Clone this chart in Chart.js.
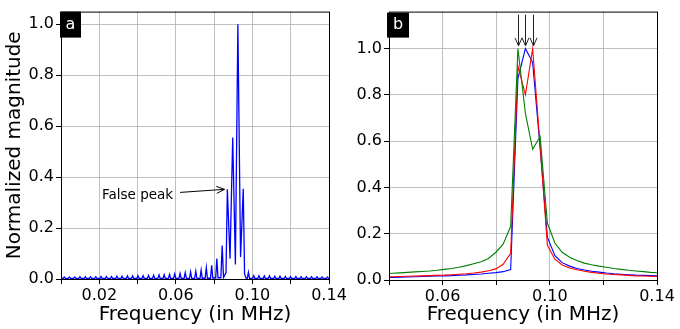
<!DOCTYPE html>
<html>
<head>
<meta charset="utf-8">
<script src="https://cdn.jsdelivr.net/npm/chart.js"></script>
<style>
html, body { margin: 0; padding: 0; background: #fff; }
#marco { position: relative; width: 680px; height: 329px; overflow: hidden; }
canvas { position: absolute; top: 0; }
#lienzoA { left: 0; }
#lienzoB { left: 340px; }
</style>
</head>
<body>
<div id="marco">
<canvas id="lienzoA" width="360" height="329" style="width:360px;height:329px"></canvas>
<canvas id="lienzoB" width="340" height="329" style="width:340px;height:329px"></canvas>
</div>
<script>
'use strict';

// panel a: espectro completo (base, pico, base de cada lobulo)
const freqA = [
    0.0000,
    0.0011, 0.0017, 0.0023,   0.0038, 0.0044, 0.0050,   0.0066, 0.0072, 0.0078,
    0.0093, 0.0099, 0.0105,   0.0121, 0.0127, 0.0133,   0.0148, 0.0154, 0.0160,
    0.0176, 0.0182, 0.0188,   0.0203, 0.0209, 0.0215,   0.0231, 0.0237, 0.0243,
    0.0258, 0.0264, 0.0270,   0.0286, 0.0292, 0.0298,   0.0313, 0.0319, 0.0325,
    0.0341, 0.0347, 0.0353,   0.0368, 0.0374, 0.0380,   0.0396, 0.0402, 0.0408,
    0.0423, 0.0429, 0.0435,   0.0451, 0.0457, 0.0463,   0.0478, 0.0484, 0.0490,
    0.0506, 0.0512, 0.0518,   0.0533, 0.0539, 0.0545,   0.0561, 0.0567, 0.0573,
    0.0588, 0.0594, 0.0600,   0.0616, 0.0622, 0.0628,   0.0643, 0.0649, 0.0655,
    0.0671, 0.0677, 0.0683,   0.0698, 0.0704, 0.0710,   0.0726, 0.0732, 0.0738,
    0.0753, 0.0759, 0.0765,   0.0781, 0.0787, 0.0793,   0.0808, 0.0814, 0.0820,
    0.0835, 0.0842, 0.0849,
    0.0862, 0.0869, 0.0883, 0.0897, 0.0911, 0.0924, 0.0938, 0.0952, 0.0959, 0.0966,
    0.0973, 0.0979, 0.0985,   0.1001, 0.1007, 0.1013,   0.1028, 0.1034, 0.1040,
    0.1056, 0.1062, 0.1068,   0.1083, 0.1089, 0.1095,   0.1111, 0.1117, 0.1123,
    0.1138, 0.1144, 0.1150,   0.1166, 0.1172, 0.1178,   0.1193, 0.1199, 0.1205,
    0.1221, 0.1227, 0.1233,   0.1248, 0.1254, 0.1260,   0.1276, 0.1282, 0.1288,
    0.1303, 0.1309, 0.1315,   0.1331, 0.1337, 0.1343,   0.1358, 0.1364, 0.1370,
    0.1386, 0.1392, 0.1398,
    0.1400
];
const magA = [
    0.002,
    0.002, 0.008, 0.002,   0.002, 0.008, 0.002,   0.002, 0.008, 0.002,
    0.002, 0.009, 0.002,   0.002, 0.009, 0.002,   0.002, 0.009, 0.002,
    0.002, 0.009, 0.002,   0.002, 0.010, 0.002,   0.002, 0.010, 0.002,
    0.002, 0.010, 0.002,   0.002, 0.011, 0.002,   0.002, 0.011, 0.002,
    0.002, 0.012, 0.002,   0.002, 0.012, 0.002,   0.002, 0.013, 0.002,
    0.002, 0.013, 0.002,   0.002, 0.014, 0.002,   0.002, 0.015, 0.002,
    0.002, 0.016, 0.002,   0.002, 0.017, 0.002,   0.002, 0.018, 0.002,
    0.002, 0.020, 0.002,   0.002, 0.022, 0.002,   0.002, 0.025, 0.002,
    0.002, 0.028, 0.002,   0.002, 0.031, 0.002,   0.002, 0.035, 0.003,
    0.003, 0.045, 0.003,   0.003, 0.054, 0.004,   0.004, 0.080, 0.005,
    0.005, 0.131, 0.006,
    0.025, 0.352, 0.080, 0.556, 0.057, 1.000, 0.086, 0.354, 0.020, 0.004,
    0.002, 0.026, 0.002,   0.002, 0.013, 0.002,   0.002, 0.013, 0.002,
    0.002, 0.012, 0.002,   0.002, 0.012, 0.002,   0.002, 0.011, 0.002,
    0.002, 0.011, 0.002,   0.002, 0.010, 0.002,   0.002, 0.010, 0.002,
    0.002, 0.010, 0.002,   0.002, 0.009, 0.002,   0.002, 0.009, 0.002,
    0.002, 0.009, 0.002,   0.002, 0.009, 0.002,   0.002, 0.008, 0.002,
    0.002, 0.008, 0.002,
    0.002
];

// panel b: tres espectros muestreados alrededor del pico
const freqB = [
    0.0386, 0.0414, 0.0441, 0.0469, 0.0496, 0.0524, 0.0551, 0.0579, 0.0606, 0.0634,
    0.0661, 0.0689, 0.0716, 0.0744, 0.0771, 0.0799, 0.0826, 0.0854, 0.0881, 0.0909,
    0.0936, 0.0964, 0.0991, 0.1019, 0.1046, 0.1074, 0.1101, 0.1129, 0.1156, 0.1184,
    0.1211, 0.1239, 0.1266, 0.1294, 0.1321, 0.1349, 0.1376, 0.1404
];
const azul = [
    0.010, 0.011, 0.012, 0.013, 0.014, 0.015, 0.016, 0.017, 0.018, 0.019,
    0.021, 0.022, 0.024, 0.026, 0.029, 0.032, 0.036, 0.045, 0.870, 1.000,
    0.940, 0.570, 0.185, 0.105, 0.075, 0.060, 0.050, 0.043, 0.038, 0.034,
    0.030, 0.027, 0.025, 0.023, 0.021, 0.020, 0.019, 0.018
];
const rojo = [
    0.013, 0.014, 0.015, 0.016, 0.017, 0.018, 0.019, 0.020, 0.021, 0.023,
    0.025, 0.027, 0.030, 0.034, 0.040, 0.048, 0.068, 0.115, 0.925, 0.800,
    1.000, 0.580, 0.150, 0.090, 0.065, 0.052, 0.044, 0.038, 0.033, 0.029,
    0.026, 0.024, 0.022, 0.020, 0.018, 0.017, 0.016, 0.015
];
const verde = [
    0.027, 0.029, 0.031, 0.033, 0.035, 0.037, 0.039, 0.042, 0.046, 0.050,
    0.055, 0.062, 0.070, 0.079, 0.093, 0.120, 0.155, 0.232, 1.000, 0.720,
    0.565, 0.620, 0.245, 0.160, 0.120, 0.098, 0.084, 0.073, 0.066, 0.060,
    0.055, 0.050, 0.046, 0.042, 0.039, 0.036, 0.033, 0.031
];

// flechas del panel b (frecuencia de cada maximo)
const picosB = [0.0881, 0.0909, 0.0936];

Chart.defaults.font.family = "'DejaVu Sans', sans-serif";
Chart.defaults.color = '#000';

const puntos = (xs, ys) => xs.map((x, i) => ({ x: x, y: ys[i] }));

function flecha(ctx, x1, y1, x2, y2, largo, ancho) {
    const ang = Math.atan2(y2 - y1, x2 - x1);
    const c = Math.cos(ang), s = Math.sin(ang);
    ctx.beginPath();
    ctx.moveTo(x1, y1);
    ctx.lineTo(x2, y2);
    ctx.moveTo(x2 - largo * c + ancho * s, y2 - largo * s - ancho * c);
    ctx.lineTo(x2, y2);
    ctx.lineTo(x2 - largo * c - ancho * s, y2 - largo * s + ancho * c);
    ctx.stroke();
}

function etiqueta(ctx, txt, x, y, w, h) {
    ctx.fillStyle = '#000';
    ctx.fillRect(x, y, w, h);
    ctx.fillStyle = '#fff';
    ctx.font = "16px 'DejaVu Sans'";
    ctx.textAlign = 'center';
    ctx.textBaseline = 'middle';
    ctx.fillText(txt, x + w / 2, y + h / 2);
}

function caja(ctx, a) {
    ctx.strokeStyle = '#000';
    ctx.lineWidth = 1;
    ctx.strokeRect(a.left + 0.5, a.top + 0.5, a.right - a.left, a.bottom - a.top);
}

function ejeX(min, max, alto) {
    return {
        type: 'linear', min: min, max: max,
        border: { display: false },
        grid: { color: '#b0b0b0', lineWidth: 0.8, tickColor: '#000', tickLength: 5, tickWidth: 1 },
        ticks: {
            stepSize: 0.02, autoSkip: false, maxRotation: 0, minRotation: 0, padding: 2,
            font: { size: 16 },
            callback: v => (Math.round(v / 0.02) % 2 === 1 ? v.toFixed(2) : '')
        },
        title: { display: true, text: 'Frequency (in MHz)', font: { size: 20 }, padding: { top: 0, bottom: 2 } },
        afterFit: s => { s.height = alto; }
    };
}

function ejeY(max, ancho, titulo) {
    return {
        min: 0, max: max,
        border: { display: false },
        grid: { color: '#b0b0b0', lineWidth: 0.8, tickColor: '#000', tickLength: 5, tickWidth: 1 },
        ticks: { stepSize: 0.2, includeBounds: false, padding: 2, font: { size: 16 }, callback: v => v.toFixed(1) },
        title: { display: !!titulo, text: titulo || '', font: { size: 20 }, padding: { top: 3, bottom: 0 } },
        afterFit: s => { s.width = ancho; }
    };
}

const extrasA = {
    id: 'extrasA',
    afterDatasetsDraw(chart) {
        const ctx = chart.ctx, x = chart.scales.x, y = chart.scales.y;
        ctx.save();
        caja(ctx, chart.chartArea);
        ctx.strokeStyle = '#000';
        ctx.lineWidth = 1;
        flecha(ctx, x.getPixelForValue(0.0622), y.getPixelForValue(0.340),
            x.getPixelForValue(0.0854), y.getPixelForValue(0.352), 8, 3.5);
        ctx.fillStyle = '#000';
        ctx.font = "13.5px 'DejaVu Sans'";
        ctx.textAlign = 'left';
        ctx.textBaseline = 'middle';
        ctx.fillText('False peak', x.getPixelForValue(0.0214), y.getPixelForValue(0.328));
        etiqueta(ctx, 'a', chart.chartArea.left - 1, chart.chartArea.top, 21, 26);
        ctx.restore();
    }
};

const extrasB = {
    id: 'extrasB',
    afterDatasetsDraw(chart) {
        const ctx = chart.ctx, x = chart.scales.x, y = chart.scales.y;
        ctx.save();
        caja(ctx, chart.chartArea);
        ctx.strokeStyle = '#222';
        ctx.lineWidth = 1;
        picosB.forEach(f => {
            const px = Math.round(x.getPixelForValue(f)) + 0.5;
            flecha(ctx, px, y.getPixelForValue(1.147), px, y.getPixelForValue(1.012), 8, 3.5);
        });
        etiqueta(ctx, 'b', chart.chartArea.left - 2, chart.chartArea.top + 1, 22, 25);
        ctx.restore();
    }
};

new Chart(document.getElementById('lienzoA'), {
    type: 'line',
    data: {
        datasets: [{
            data: puntos(freqA, magA),
            borderColor: '#0000ff',
            borderWidth: 1.3,
            pointRadius: 0,
            tension: 0,
            fill: false
        }]
    },
    options: {
        responsive: false,
        animation: false,
        layout: { padding: { top: 7, right: 31, bottom: 0, left: 0 } },
        plugins: { legend: { display: false }, tooltip: { enabled: false } },
        scales: {
            x: ejeX(0, 0.14, 50),
            y: ejeY(1.05, 61, 'Normalized magnitude')
        }
    },
    plugins: [extrasA]
});

const linea = (datos, color) => ({
    data: puntos(freqB, datos),
    borderColor: color,
    borderWidth: 1.1,
    pointRadius: 0,
    tension: 0,
    fill: false
});

new Chart(document.getElementById('lienzoB'), {
    type: 'line',
    data: {
        datasets: [linea(verde, '#008000'), linea(rojo, '#ff0000'), linea(azul, '#0000ff')]
    },
    options: {
        responsive: false,
        animation: false,
        layout: { padding: { top: 8, right: 23, bottom: 0, left: 0 } },
        plugins: { legend: { display: false }, tooltip: { enabled: false } },
        scales: {
            x: ejeX(0.04, 0.14, 49),
            y: ejeY(1.16, 49, null)
        }
    },
    plugins: [extrasB]
});
</script>
</body>
</html>
